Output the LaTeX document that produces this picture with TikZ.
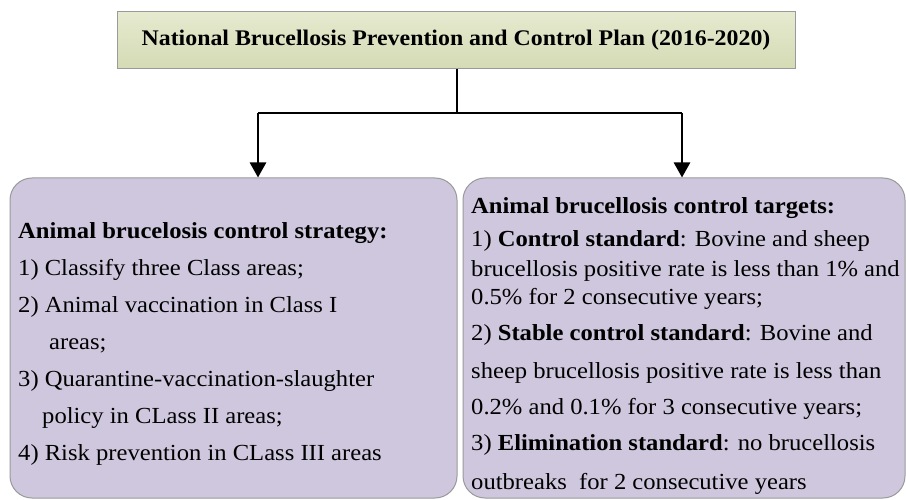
\documentclass[tikz,border=0pt]{standalone}
\usepackage{fontspec}
\setmainfont{Liberation Serif}[FakeStretch=1.07]
\usetikzlibrary{arrows.meta}
\definecolor{lav}{HTML}{CFC7DD}
\definecolor{gtop}{HTML}{E6EAD0}
\definecolor{gbot}{HTML}{D4DBB4}
\definecolor{edge}{HTML}{9A9A9A}
\tikzset{
  planbox/.style={draw=edge, line width=1pt, top color=gtop, bottom color=gbot, minimum width=678pt, minimum height=57pt, inner sep=0pt},
  sidebox/.style={draw=edge, line width=1pt, fill=lav, rounded corners=22pt, inner sep=0pt},
  conn/.style={line width=2.6pt, line cap=butt},
  arr/.style={conn, -{Triangle[length=15pt,width=16pt]}},
  txt/.style={align=left, inner sep=0pt, font=\fontsize{23}{37}\selectfont}
}
\begin{document}
\begin{tikzpicture}[x=1pt,y=-1pt]
\useasboundingbox (0,0) rectangle (906,500);
\node[planbox] (plan) at (456,40) {\fontsize{22.3}{26}\selectfont\bfseries National Brucellosis Prevention and Control Plan (2016-2020)};
\node[sidebox, minimum width=447pt, minimum height=320pt] (strat) at (233.5,338) {};
\node[sidebox, minimum width=442pt, minimum height=320pt] (targ) at (684,338) {};
\coordinate (split) at (457,113);
\coordinate (lt) at (258,113);
\coordinate (rt) at (682,113);
\draw[conn] (plan.south -| split) -- (split);
\draw[conn] (lt) -- (rt);
\draw[arr] (lt) -- (lt |- strat.north);
\draw[arr] (rt) -- (rt |- targ.north);
\node[txt, anchor=west] (stext) at (18,344) {\textbf{Animal brucelosis control strategy:}\\
1) Classify three Class areas;\\
2) Animal vaccination in Class I\\
\hspace*{31pt}areas;\\
3) Quarantine-vaccination-slaughter\\
\hspace*{24pt}policy in CLass II areas;\\
4) Risk prevention in CLass III areas};
\node[txt, anchor=west, font=\fontsize{23}{30}\selectfont] (ttext) at (471,346) {\textbf{Animal brucellosis control targets:}\\[3pt]
1) \textbf{Control standard}: Bovine and sheep\\
brucellosis positive rate is less than 1\% and\\[-1pt]
0.5\% for 2 consecutive years;\\[5pt]
2) \textbf{Stable control standard}: Bovine and\\[8pt]
sheep brucellosis positive rate is less than\\[7pt]
0.2\% and 0.1\% for 3 consecutive years;\\[6pt]
3) \textbf{Elimination standard}: no brucellosis\\[9pt]
outbreaks\ \ for 2 consecutive years};
\end{tikzpicture}
\end{document}
